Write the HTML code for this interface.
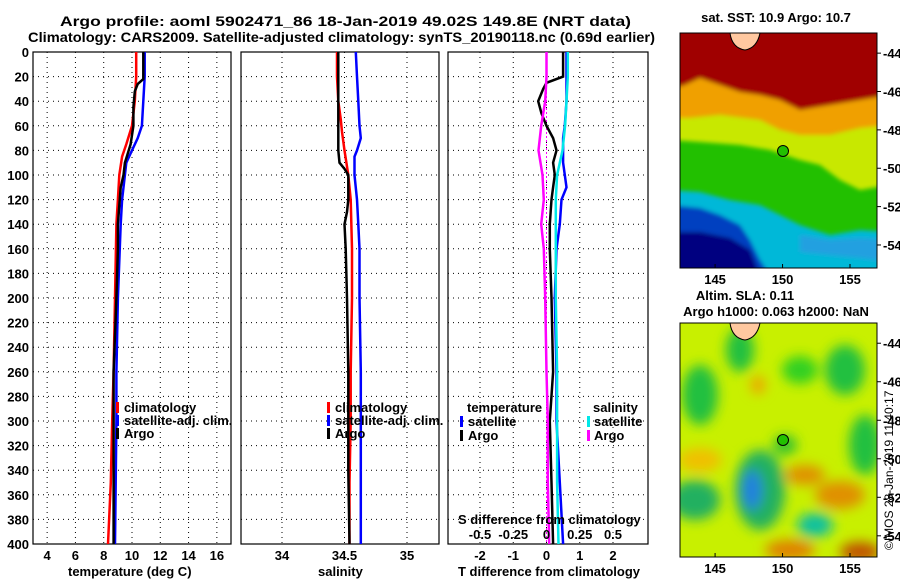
<!DOCTYPE html>
<html><head><meta charset="utf-8"><style>
body{margin:0;background:#fff;}
svg{display:block;font-family:"Liberation Sans",sans-serif;font-weight:bold;}
text{font-size:13px;fill:#000;}
</style></head><body>
<svg id="c" width="900" height="580" viewBox="0 0 900 580">
<defs>
<filter id="bl" x="-20%" y="-20%" width="140%" height="140%"><feGaussianBlur stdDeviation="6"/></filter>
<filter id="bl2" x="-20%" y="-20%" width="140%" height="140%"><feGaussianBlur stdDeviation="2"/></filter>
<clipPath id="m1c"><rect x="680" y="33" width="197" height="235"/></clipPath>
<clipPath id="m2c"><rect x="680" y="323" width="197" height="234"/></clipPath>
</defs>
<text x="60" y="26" textLength="571" lengthAdjust="spacingAndGlyphs" style="font-size:14px">Argo profile: aoml 5902471_86 18-Jan-2019 49.02S 149.8E (NRT data)</text>
<text x="28" y="42" textLength="627" lengthAdjust="spacingAndGlyphs" style="font-size:14px">Climatology: CARS2009. Satellite-adjusted climatology: synTS_20190118.nc (0.69d earlier)</text>
<g id="plots"></g>

<!-- map 1 -->
<g clip-path="url(#m1c)">
<rect x="680" y="33" width="197" height="235" fill="#22c000"/>
<g filter="url(#bl2)">
<polygon points="670,25 890,25 890,95 860,100 830,105 800,110 780,100 760,95 740,92 720,85 700,78 685,85 670,90" fill="#a00000"/>
<polygon points="670,90 685,85 700,78 720,85 740,92 760,95 780,100 800,110 830,105 860,100 890,95 890,130 860,128 830,135 800,135 780,130 760,120 720,115 690,118 670,118" fill="#f0a000"/>
<polygon points="670,118 690,118 720,115 760,120 780,130 800,135 830,135 860,128 890,125 890,185 860,190 840,180 820,165 800,160 770,150 740,145 700,142 670,140" fill="#c8e800"/>
<polygon points="670,190 700,192 730,200 760,205 780,215 800,225 830,235 860,230 890,232 890,280 670,280" fill="#00b8d8"/>
<polygon points="670,205 700,208 720,215 740,225 750,240 760,260 770,275 670,275" fill="#0040c0"/>
<polygon points="670,232 700,232 730,238 750,250 760,275 670,280" fill="#000080"/>
<polygon points="800,235 830,240 860,238 890,240 890,262 860,258 830,255 800,252" fill="#20a0e0"/>
</g>
<path d="M730,33 Q732,48 745,50 Q757,48 760,33 Z" fill="#ffc8a0" stroke="#000" stroke-width="1"/>
</g>
<rect x="680" y="33" width="197" height="235" fill="none" stroke="#000"/>
<circle cx="783" cy="151" r="5.5" fill="#22c000" stroke="#000"/>
<text x="776" y="22" text-anchor="middle">sat. SST: 10.9 Argo: 10.7</text>

<!-- map 2 -->
<g clip-path="url(#m2c)">
<rect x="680" y="323" width="197" height="234" fill="#c8f000"/>
<g filter="url(#bl)">
<ellipse cx="700" cy="395" rx="18" ry="30" fill="#20c040"/>
<ellipse cx="740" cy="350" rx="14" ry="22" fill="#20c040"/>
<ellipse cx="800" cy="370" rx="18" ry="14" fill="#30d020"/>
<ellipse cx="845" cy="370" rx="20" ry="25" fill="#20c040"/>
<ellipse cx="865" cy="445" rx="16" ry="30" fill="#20c040"/>
<ellipse cx="695" cy="500" rx="25" ry="20" fill="#20b060"/>
<ellipse cx="760" cy="490" rx="25" ry="40" fill="#20b060"/>
<ellipse cx="752" cy="490" rx="10" ry="20" fill="#2080e0"/>
<ellipse cx="815" cy="525" rx="18" ry="12" fill="#10c0a0"/>
<ellipse cx="700" cy="460" rx="22" ry="12" fill="#f0c000"/>
<ellipse cx="805" cy="475" rx="20" ry="10" fill="#e09000"/>
<ellipse cx="840" cy="495" rx="25" ry="14" fill="#e09000"/>
<ellipse cx="790" cy="550" rx="25" ry="10" fill="#e08000"/>
<ellipse cx="860" cy="552" rx="20" ry="10" fill="#c05000"/>
<ellipse cx="758" cy="385" rx="7" ry="9" fill="#f0a000"/>
<ellipse cx="785" cy="445" rx="12" ry="10" fill="#30c030"/>
</g>
<path d="M730,323 Q732,338 745,340 Q757,338 760,323 Z" fill="#ffc8a0" stroke="#000" stroke-width="1"/>
</g>
<rect x="680" y="323" width="197" height="234" fill="none" stroke="#000"/>
<circle cx="783" cy="440" r="5.5" fill="#22c000" stroke="#000"/>
<text x="745" y="300" text-anchor="middle">Altim. SLA: 0.11</text>
<text x="776" y="316" text-anchor="middle">Argo h1000: 0.063 h2000: NaN</text>
<g id="maps"></g>
<text transform="translate(893,550) rotate(-90)" style="font-size:12px;font-weight:normal">©IMOS 28-Jan-2019 11:40:17</text>
</svg>
<script>
const depthTicks=[0,20,40,60,80,100,120,140,160,180,200,220,240,260,280,300,320,340,360,380,400];
const tTicks=[4,6,8,10,12,14,16];
const sTicks=[34,34.5,35];
const tdTicks=[-2,-1,0,1,2];
const sdTicks=[-0.5,-0.25,0,0.25,0.5];
const sdTickLabels=["-0.5","-0.25","0","0.25","0.5"];
const lonTicks=[145,150,155];
const latTicks=[-44,-46,-48,-50,-52,-54];

const tClimDepth=[0,20,40,60,75,85,100,120,140,200,260,300,350,400];
const tClim=[10.3,10.3,10.2,10.0,9.6,9.3,9.1,9.0,8.9,8.8,8.7,8.6,8.5,8.3];
const tSatDepth=[0,20,40,60,70,80,90,100,120,140,200,260,300,350,400];
const tSat=[10.9,10.9,10.8,10.7,10.4,10.0,9.6,9.5,9.3,9.2,9.0,8.9,8.9,8.85,8.8];
const tArgoDepth=[0,22,26,32,45,60,75,90,100,110,140,160,200,260,300,350,400];
const tArgo=[10.8,10.8,10.4,10.2,10.1,10.1,9.9,9.5,9.4,9.2,9.0,9.0,8.9,8.7,8.7,8.7,8.7];

const sClimDepth=[0,20,40,55,65,80,100,120,160,200,260,300,350,400];
const sClim=[34.44,34.44,34.45,34.47,34.48,34.50,34.53,34.55,34.56,34.56,34.55,34.55,34.54,34.54];
const sSatDepth=[0,20,40,60,70,80,85,100,120,140,160,200,260,300,350,400];
const sSat=[34.59,34.60,34.61,34.62,34.63,34.60,34.58,34.58,34.60,34.61,34.62,34.62,34.63,34.63,34.63,34.63];
const sArgoDepth=[0,20,40,60,80,90,95,100,120,130,140,160,200,260,300,340,400];
const sArgo=[34.45,34.45,34.45,34.45,34.45,34.46,34.50,34.53,34.53,34.52,34.50,34.51,34.52,34.53,34.53,34.53,34.54];

const dTSatDepth=[0,20,40,60,70,80,90,100,110,120,140,160,200,260,300,350,400];
const dTSat=[0.6,0.6,0.6,0.55,0.5,0.5,0.5,0.55,0.6,0.45,0.4,0.3,0.25,0.3,0.3,0.4,0.5];
const dTArgoDepth=[0,20,25,30,40,50,60,70,80,90,100,110,120,140,160,200,260,300,350,400];
const dTArgo=[0.5,0.5,0.0,-0.1,-0.25,-0.15,0.0,0.2,0.3,0.2,0.25,0.2,0.15,0.1,0.1,0.15,0.2,0.1,0.15,0.2];
const dSSatDepth=[0,20,40,60,80,100,120,160,200,260,300,350,400];
const dSSat=[0.16,0.16,0.15,0.14,0.12,0.08,0.07,0.07,0.07,0.08,0.08,0.08,0.09];
const dSArgoDepth=[0,20,40,60,80,100,120,140,160,200,260,300,350,400];
const dSArgo=[0.0,0.0,-0.01,-0.04,-0.06,-0.03,-0.02,-0.04,-0.02,-0.01,0.0,0.01,0.01,0.02];

const NS="http://www.w3.org/2000/svg";
const g=document.getElementById('plots');
function el(tag,attrs,parent){const e=document.createElementNS(NS,tag);for(const k in attrs)e.setAttribute(k,attrs[k]);(parent||g).appendChild(e);return e;}
const Y0=52,Y1=544;
function yD(d){return Y0+(d/400)*(Y1-Y0);}
function lin(d0,d1,p0,p1){return v=>p0+(v-d0)/(d1-d0)*(p1-p0);}

function panel(x0,x1,xs,ticks,labels,name){
  const fr=el('rect',{x:x0,y:Y0,width:x1-x0,height:Y1-Y0,fill:'#fff',stroke:'#000','stroke-width':1.2});
  
  
  depthTicks.forEach(d=>{
    const l=el('line',{x1:x0,x2:x1,y1:yD(d),y2:yD(d),stroke:'#000','stroke-dasharray':'1,4'});
    
    
  });
  ticks.forEach((v,i)=>{
    const l=el('line',{x1:xs(v),x2:xs(v),y1:Y0,y2:Y1,stroke:'#000','stroke-dasharray':'1,4'});
    
    
    if(labels){const t=el('text',{x:xs(v),y:560,'text-anchor':'middle'});t.textContent=labels[i];
      
      }
  });
}
function line(xs,vals,depths,color,name,w){
  const pts=vals.map((v,i)=>xs(v).toFixed(1)+','+yD(depths[i]).toFixed(1)).join(' ');
  const p=el('polyline',{points:pts,fill:'none',stroke:color,'stroke-width':w||2.5});
  
  
}
function txt(x,y,s,name,anchor){const t=el('text',{x:x,y:y,'text-anchor':anchor||'start'});t.textContent=s;
  
  return t;}
function legMark(x,y,color,name){const r=el('rect',{x:x,y:y-10,width:3,height:11,fill:color});
  
  }

const xT=lin(3,17,33,231);
panel(33,231,xT,tTicks,tTicks.map(String),'temperature-panel');
depthTicks.forEach(d=>txt(29,yD(d)+5,String(d),'depth-tick-label','end'));
line(xT,tClim,tClimDepth,'#ff0000','temp-climatology-line');
line(xT,tSat,tSatDepth,'#0000ff','temp-satellite-line');
line(xT,tArgo,tArgoDepth,'#000','temp-argo-line');
txt(68,576,'temperature (deg C)','temperature-axis-title');
legMark(116,412,'#ff0000','legend-climatology-mark');txt(124,412,'climatology','legend-climatology');
legMark(116,425,'#0000ff','legend-satellite-mark');txt(124,425,'satellite-adj. clim.','legend-satellite');
legMark(116,438,'#000','legend-argo-mark');txt(124,438,'Argo','legend-argo');

const xS=lin(33.672,35.256,241,439);
panel(241,439,xS,sTicks,sTicks.map(String),'salinity-panel');
line(xS,sClim,sClimDepth,'#ff0000','sal-climatology-line');
line(xS,sSat,sSatDepth,'#0000ff','sal-satellite-line');
line(xS,sArgo,sArgoDepth,'#000','sal-argo-line');
txt(318,576,'salinity','salinity-axis-title');
legMark(327,412,'#ff0000','legend2-climatology-mark');txt(335,412,'climatology','legend2-climatology');
legMark(327,425,'#0000ff','legend2-satellite-mark');txt(335,425,'satellite-adj. clim.','legend2-satellite');
legMark(327,438,'#000','legend2-argo-mark');txt(335,438,'Argo','legend2-argo');

const xTD=lin(-2,2,480,613);
const xSD=lin(-0.5,0.5,480,613);
panel(448,648,xTD,tdTicks,tdTicks.map(String),'difference-panel');
const zl=el('line',{x1:xTD(0),x2:xTD(0),y1:Y0,y2:Y1,stroke:'#f0f',"stroke-dasharray":"2,2"});


line(xTD,dTSat,dTSatDepth,'#0000ff','tdiff-satellite-line');
line(xTD,dTArgo,dTArgoDepth,'#000','tdiff-argo-line');
line(xSD,dSSat,dSSatDepth,'#00e8e8','sdiff-satellite-line');
line(xSD,dSArgo,dSArgoDepth,'#ff00ff','sdiff-argo-line');
txt(467,412,'temperature','legend3-temperature-header');
legMark(460,426,'#0000ff','legend3-tsat-mark');txt(468,426,'satellite','legend3-tsat');
legMark(460,440,'#000','legend3-targo-mark');txt(468,440,'Argo','legend3-targo');
txt(593,412,'salinity','legend3-salinity-header');
legMark(587,426,'#00e8e8','legend3-ssat-mark');txt(594,426,'satellite','legend3-ssat');
legMark(587,440,'#ff00ff','legend3-sargo-mark');txt(594,440,'Argo','legend3-sargo');
txt(458,524,'S difference from climatology','sdiff-axis-title');
sdTicks.forEach((v,i)=>txt(xSD(v),539,sdTickLabels[i],'sdiff-tick-label','middle'));
txt(458,576,'T difference from climatology','tdiff-axis-title');

const mg=document.getElementById('maps');
const lonX=lin(142.4,157.0,680,877);
function mapAxes(y0,y1,latTop,latBot,labelY,name){
  const latY=lin(latTop,latBot,y0,y1);
  lonTicks.forEach(v=>{
    el('line',{x1:lonX(v),x2:lonX(v),y1:y1,y2:y1-4,stroke:'#000'},mg);
    const t=el('text',{x:lonX(v),y:labelY,'text-anchor':'middle'},mg);t.textContent=String(v);
    
    
  });
  latTicks.forEach(v=>{
    el('line',{x1:877,x2:881,y1:latY(v),y2:latY(v),stroke:'#000'},mg);
    const t=el('text',{x:883,y:latY(v)+5},mg);t.textContent=String(v);
    
    
  });
}
mapAxes(33,268,-42.95,-55.2,284,'sst-map');
mapAxes(323,557,-42.95,-55.1,573,'sla-map');
</script>
</body></html>
